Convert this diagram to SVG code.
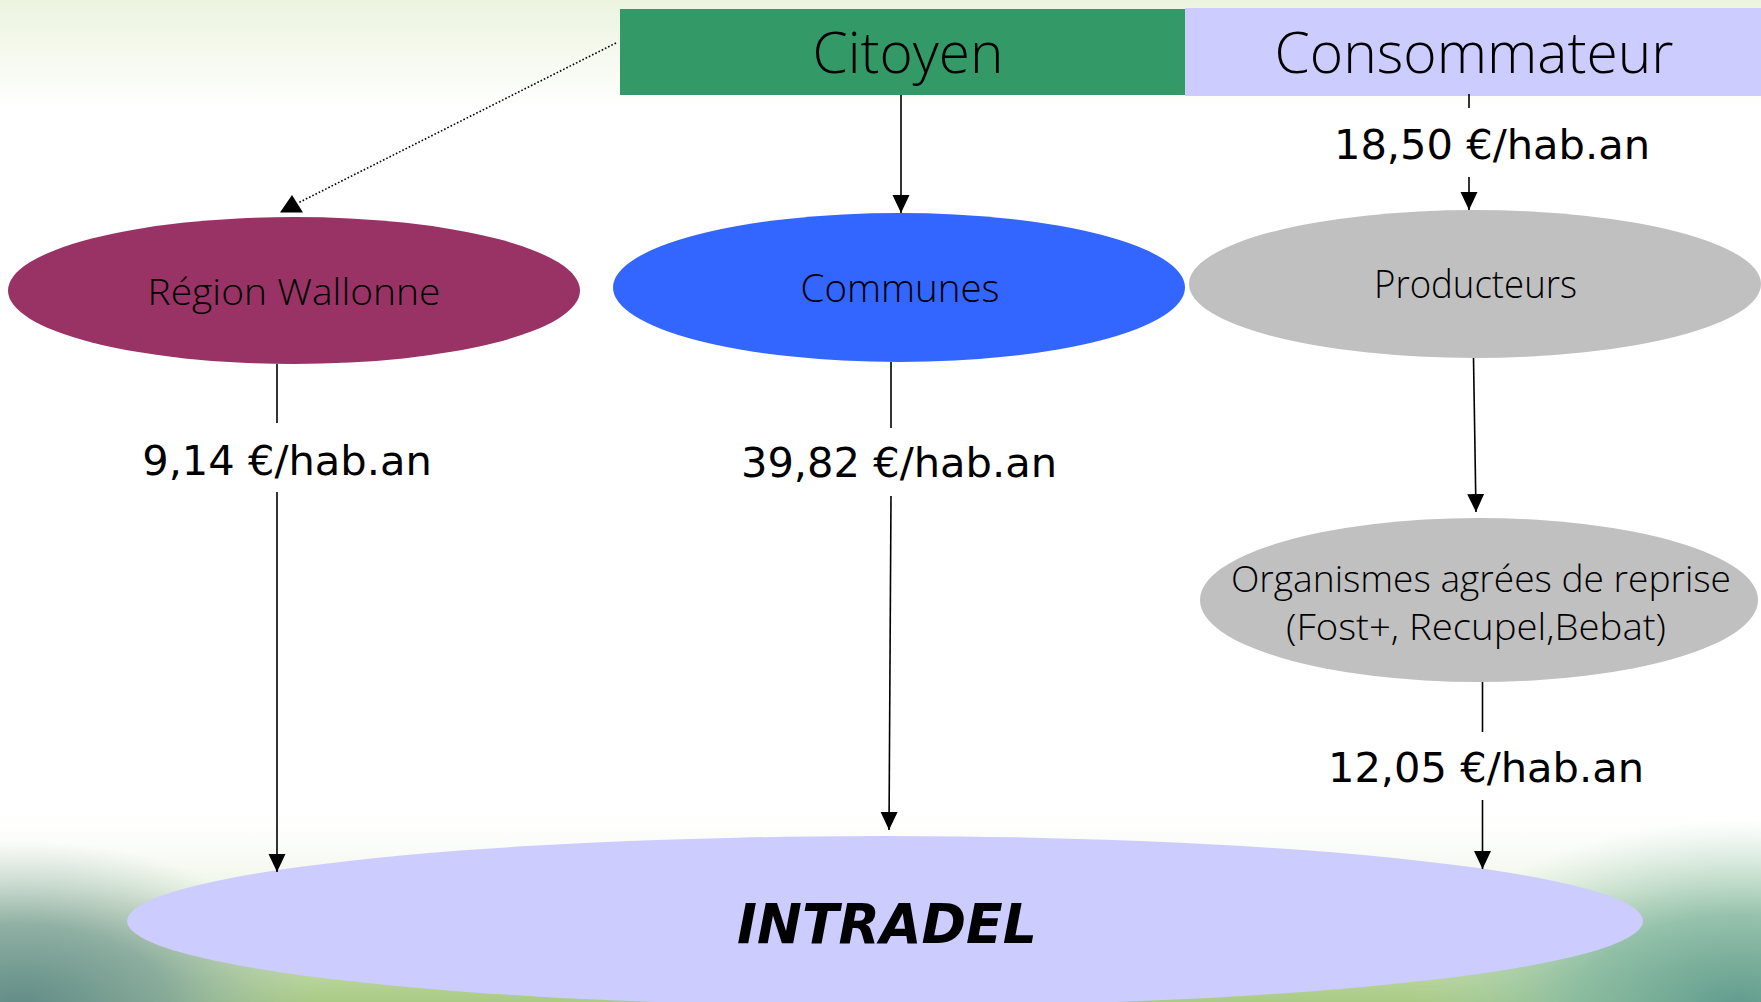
<svg xmlns="http://www.w3.org/2000/svg" width="1761" height="1002" viewBox="0 0 1761 1002">
<style>
.node-t{font-family:"Open Sans","Liberation Sans",sans-serif;font-weight:300;fill:#000;text-anchor:middle}
.lbl{font-family:"DejaVu Sans","Liberation Sans",sans-serif;font-size:41.6px;fill:#000;text-anchor:middle}
.ln{stroke:#000;stroke-width:1.6;fill:none}
</style>
<defs>
<marker id="arr" markerUnits="userSpaceOnUse" markerWidth="18" markerHeight="18" refX="18" refY="8.5" orient="auto">
<path d="M0,0 L18,8.5 L0,17 z" fill="#000"/>
</marker>
<linearGradient id="topg" x1="0" y1="0" x2="0" y2="1">
<stop offset="0" stop-color="#ecf4df"/>
<stop offset="1" stop-color="#ffffff"/>
</linearGradient>
<linearGradient id="botg" x1="0" y1="0" x2="0" y2="1">
<stop offset="0" stop-color="#ffffff" stop-opacity="0"/>
<stop offset="0.45" stop-color="#eef5e6" stop-opacity="1"/>
<stop offset="1" stop-color="#a9cb85"/>
</linearGradient>
<radialGradient id="tl" cx="0.5" cy="0.5" r="0.5">
<stop offset="0" stop-color="#5f8a86"/>
<stop offset="0.5" stop-color="#7ea29c" stop-opacity="0.8"/>
<stop offset="1" stop-color="#a9c3b8" stop-opacity="0"/>
</radialGradient>
<radialGradient id="tr" cx="0.5" cy="0.5" r="0.5">
<stop offset="0" stop-color="#5f9a8e"/>
<stop offset="0.5" stop-color="#84b8a4" stop-opacity="0.8"/>
<stop offset="1" stop-color="#b5d6c0" stop-opacity="0"/>
</radialGradient>
</defs>
<g id="background">
<rect x="0" y="0" width="1761" height="1002" fill="#ffffff"/>
<rect x="0" y="0" width="1761" height="110" fill="url(#topg)"/>
<rect x="0" y="800" width="1761" height="202" fill="url(#botg)"/>
<ellipse cx="20" cy="1010" rx="300" ry="170" fill="url(#tl)"/>
<ellipse cx="1740" cy="1010" rx="330" ry="190" fill="url(#tr)"/>
</g>
<g id="node-citoyen">
<rect x="620" y="9" width="565" height="86" fill="#339966"/>
<text class="node-t" x="908" y="73" font-size="57" textLength="191" lengthAdjust="spacingAndGlyphs">Citoyen</text>
</g>
<g id="node-consommateur">
<rect x="1185" y="8" width="576" height="88" fill="#ccccff"/>
<text class="node-t" x="1474" y="73" font-size="57" textLength="399" lengthAdjust="spacingAndGlyphs">Consommateur</text>
</g>
<g id="node-region">
<ellipse cx="294" cy="290.5" rx="286" ry="73.5" fill="#993366"/>
<text class="node-t" x="294" y="305" font-size="37.5" textLength="293" lengthAdjust="spacingAndGlyphs">Région Wallonne</text>
</g>
<g id="node-communes">
<ellipse cx="899" cy="287.5" rx="286" ry="74.5" fill="#3366ff"/>
<text class="node-t" x="900" y="302" font-size="39" textLength="199" lengthAdjust="spacingAndGlyphs">Communes</text>
</g>
<g id="node-producteurs">
<ellipse cx="1475" cy="284" rx="286" ry="74" fill="#c0c0c0"/>
<text class="node-t" x="1475.5" y="298" font-size="38" textLength="203" lengthAdjust="spacingAndGlyphs">Producteurs</text>
</g>
<g id="node-organismes">
<ellipse cx="1479" cy="600" rx="279" ry="82" fill="#c0c0c0"/>
<text class="node-t" x="1481" y="592" font-size="36" textLength="500" lengthAdjust="spacingAndGlyphs">Organismes agrées de reprise</text>
<text class="node-t" x="1476" y="640" font-size="36" textLength="380" lengthAdjust="spacingAndGlyphs">(Fost+, Recupel,Bebat)</text>
</g>
<g id="node-intradel">
<ellipse cx="885" cy="921" rx="758" ry="85" fill="#ccccff"/>
<text x="887" y="943" font-family="'DejaVu Sans','Liberation Sans',sans-serif" font-weight="bold" font-style="italic" font-size="56" text-anchor="middle" textLength="300" lengthAdjust="spacingAndGlyphs">INTRADEL</text>
</g>
<g id="connectors">
<line x1="616" y1="43" x2="298" y2="203" stroke="#000" stroke-width="1.6" stroke-dasharray="1.6 2"/>
<polygon points="292,195 280,212.5 303,212.5" fill="#000"/>
<line class="ln" x1="901" y1="95" x2="901" y2="213" marker-end="url(#arr)"/>
<line class="ln" x1="1469" y1="94" x2="1469" y2="108"/>
<text class="lbl" x="1492" y="159">18,50 €/hab.an</text>
<line class="ln" x1="1469" y1="177" x2="1469" y2="210" marker-end="url(#arr)"/>
<line class="ln" x1="277" y1="364" x2="277" y2="423"/>
<text class="lbl" x="287" y="475">9,14 €/hab.an</text>
<line class="ln" x1="277" y1="492" x2="277" y2="872" marker-end="url(#arr)"/>
<line class="ln" x1="891" y1="362" x2="891" y2="428"/>
<text class="lbl" x="899" y="477">39,82 €/hab.an</text>
<line class="ln" x1="891" y1="496" x2="889" y2="830" marker-end="url(#arr)"/>
<line class="ln" x1="1473.5" y1="358" x2="1476" y2="512" marker-end="url(#arr)"/>
<line class="ln" x1="1482.5" y1="682" x2="1482.5" y2="732"/>
<text class="lbl" x="1486" y="782">12,05 €/hab.an</text>
<line class="ln" x1="1482.5" y1="800" x2="1482.5" y2="869" marker-end="url(#arr)"/>
</g>
</svg>
